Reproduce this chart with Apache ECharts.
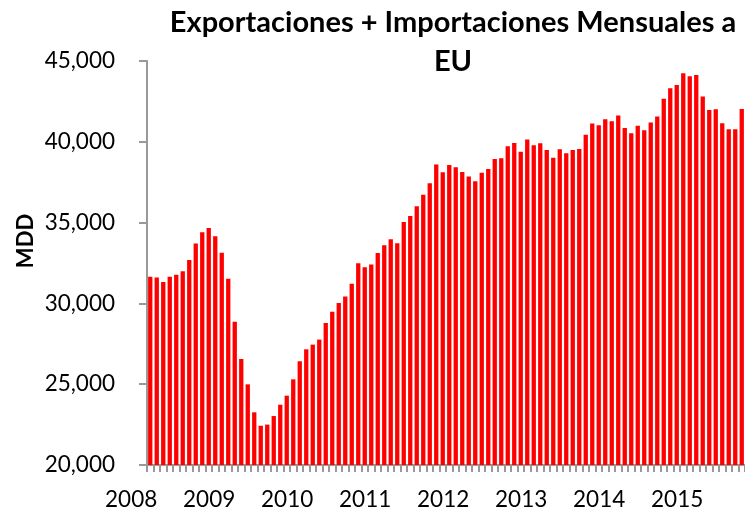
<!DOCTYPE html>
<html>
<head>
<meta charset="utf-8">
<script src="https://cdn.jsdelivr.net/npm/echarts@6/dist/echarts.min.js"></script>
<style>
html,body{margin:0;padding:0;background:#fff;}
#chart{width:745px;height:511px;}
</style>
</head>
<body>
<div id="chart"></div>
<script>
// Year tick labels (each year has 12 monthly categories)
const years = ["2008","2009","2010","2011","2012","2013","2014","2015"];
const months = ["01","02","03","04","05","06","07","08","09","10","11","12"];
// Monthly total (exports + imports), MDD, Jan 2008 .. Aug 2015
const values = [
  31650, 31610, 31330, 31650, 31780, 31990, 32690, 33700, 34400, 34670, 34150, 33140,
  31530, 28870, 26560, 24990, 23260, 22430, 22500, 23030, 23730, 24290, 25300, 26420,
  27160, 27450, 27760, 28790, 29490, 30030, 30420, 31220, 32480, 32230, 32400, 33120,
  33600, 33970, 33720, 35040, 35410, 36010, 36730, 37430, 38590, 38110, 38570, 38420,
  38130, 37850, 37560, 38090, 38320, 38940, 38980, 39720, 39930, 39390, 40140, 39780,
  39910, 39500, 39020, 39540, 39290, 39500, 39560, 40440, 41130, 41020, 41390, 41270,
  41620, 40860, 40530, 41000, 40710, 41190, 41560, 42670, 43310, 43520, 44240, 44060,
  44140, 42800, 41970, 42010, 41150, 40770, 40770, 42030
];
const yTicks = {min: 20000, max: 45000, interval: 5000};
const titleText = "Exportaciones + Importaciones Mensuales a\nEU";
const yName = "MDD";

const categories = [];
years.forEach(y => months.forEach(m => categories.push(y + "-" + m)));
categories.length = values.length;

const FONT = "Lato, 'Open Sans', sans-serif";
const chart = echarts.init(document.getElementById('chart'));
chart.setOption({
  animation: false,
  backgroundColor: '#fff',
  grid: {left: 147, right: 0, top: 61, bottom: 46, containLabel: false},
  graphic: [
    {type: 'text', x: 453, y: 3, style: {text: titleText, align: 'center', verticalAlign: 'top',
      font: "bold 29px " + FONT, lineHeight: 39, fill: '#000'}},
    {type: 'text', x: 26, y: 241, rotation: Math.PI / 2, style: {text: yName, align: 'center', verticalAlign: 'middle',
      font: "bold 22px " + FONT, fill: '#000'}}
  ],
  xAxis: {
    type: 'category',
    data: categories,
    boundaryGap: true,
    axisLine: {lineStyle: {color: '#999', width: 2}},
    axisTick: {show: true, interval: 0, length: 7, lineStyle: {color: '#999', width: 2}},
    axisLabel: {
      interval: 11, align: 'right', margin: 23, padding: [0, -7, 0, 0],
      fontFamily: FONT, fontSize: 22.5, color: '#000',
      formatter: v => v.slice(0, 4)
    },
    splitLine: {show: false}
  },
  yAxis: {
    type: 'value',
    min: yTicks.min, max: yTicks.max, interval: yTicks.interval,
    axisLine: {show: true, lineStyle: {color: '#999', width: 2}},
    axisTick: {show: true, length: 8, lineStyle: {color: '#999', width: 2}},
    axisLabel: {margin: 32, fontFamily: FONT, fontSize: 22.5, color: '#000',
      formatter: v => v.toLocaleString('en-US')},
    splitLine: {show: false}
  },
  series: [{
    type: 'bar',
    data: values,
    barCategoryGap: '34%',
    itemStyle: {color: '#ff0000'}
  }]
});
</script>
</body>
</html>
